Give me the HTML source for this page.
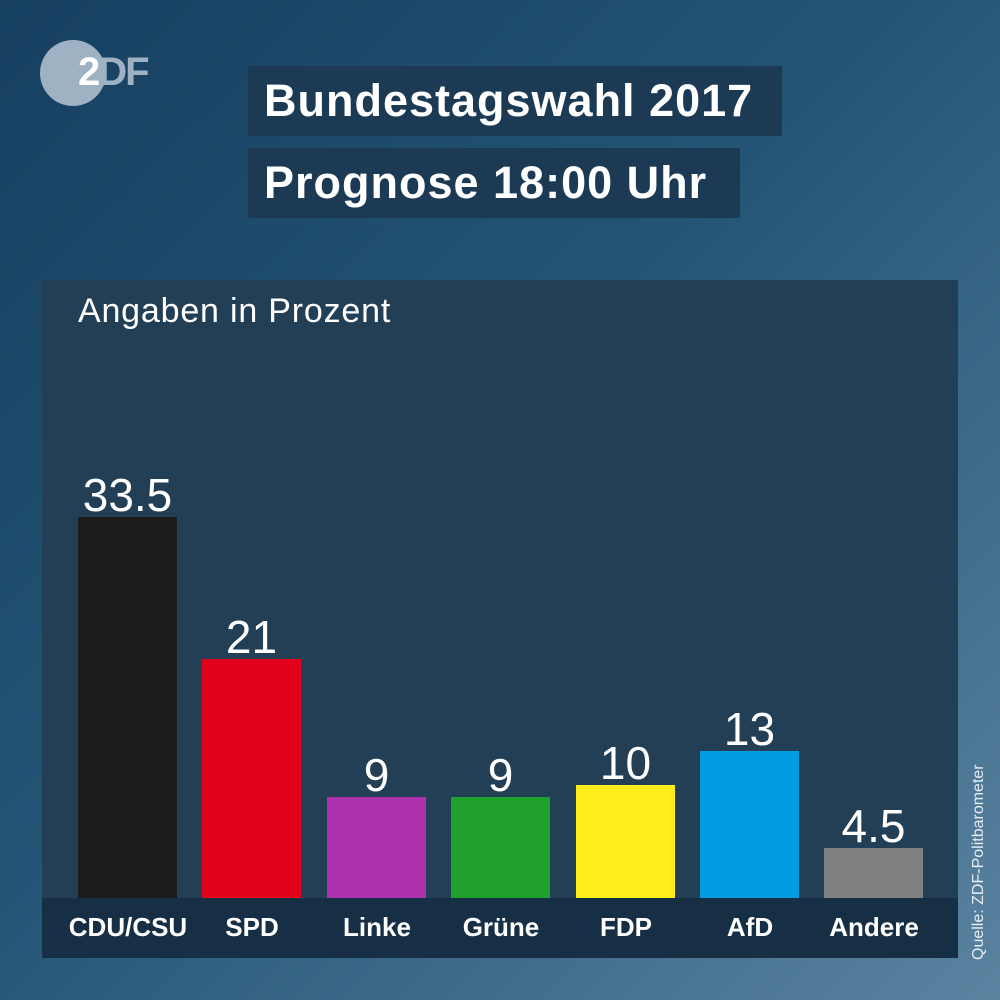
<!DOCTYPE html>
<html><head><meta charset="utf-8"><style>
*{margin:0;padding:0;box-sizing:border-box}
body{width:1000px;height:1000px;overflow:hidden;position:relative;font-family:"Liberation Sans","DejaVu Sans",sans-serif;
background:linear-gradient(135deg,#163f60 0%,#245475 45%,#5a83a0 100%);}
.a{position:absolute}
.tb{background:#1d3a54;color:#fff;font-weight:bold;font-size:45px;letter-spacing:1px;padding-left:16px;line-height:70px}
.panel{left:42px;top:280px;width:916px;height:678px;background:#233f56}
.band{left:42px;top:898px;width:916px;height:60px;background:#172f45}
.bar{position:absolute;width:99px;bottom:102px}
.val{position:absolute;width:99px;text-align:center;color:#fff;font-size:46px;line-height:46px}
.lab{position:absolute;width:124px;text-align:center;color:#fff;font-weight:bold;font-size:26px;top:912px}
</style></head><body>
<div class="a" style="left:40px;top:40px;width:66px;height:66px;border-radius:50%;background:#9fb2c3"></div>
<div class="a" style="left:78px;top:50px;font-size:40px;font-weight:bold;color:#fff;letter-spacing:-2px">2<span style="color:#9fb2c3">DF</span></div>
<div class="a tb" style="left:248px;top:66px;width:534px">Bundestagswahl 2017</div>
<div class="a tb" style="left:248px;top:148px;width:492px">Prognose 18:00 Uhr</div>
<div class="a panel"></div>
<div class="a band"></div>
<div class="a" style="left:78px;top:292px;color:#fff;font-size:34px;letter-spacing:0.8px">Angaben in Prozent</div>
<div class="bar" style="left:78px;top:517px;background:#1c1c1c"></div>
<div class="bar" style="left:202px;top:659px;background:#e2001a"></div>
<div class="bar" style="left:327px;top:797px;background:#ae31ae"></div>
<div class="bar" style="left:451px;top:797px;background:#20a02d"></div>
<div class="bar" style="left:576px;top:785px;background:#ffed1c"></div>
<div class="bar" style="left:700px;top:751px;background:#009ee0"></div>
<div class="bar" style="left:824px;top:848px;background:#808080"></div>
<div class="val" style="left:78px;top:472px">33.5</div>
<div class="val" style="left:202px;top:614px">21</div>
<div class="val" style="left:327px;top:752px">9</div>
<div class="val" style="left:451px;top:752px">9</div>
<div class="val" style="left:576px;top:740px">10</div>
<div class="val" style="left:700px;top:706px">13</div>
<div class="val" style="left:824px;top:803px">4.5</div>
<div class="lab" style="left:66px">CDU/CSU</div>
<div class="lab" style="left:190px">SPD</div>
<div class="lab" style="left:315px">Linke</div>
<div class="lab" style="left:439px">Grüne</div>
<div class="lab" style="left:564px">FDP</div>
<div class="lab" style="left:688px">AfD</div>
<div class="lab" style="left:812px">Andere</div>
<div class="a" style="left:971px;top:960px;transform-origin:0 0;transform:rotate(-90deg);color:#e8eef3;font-size:16px;white-space:nowrap;line-height:1">Quelle: ZDF-Politbarometer</div>
</body></html>
